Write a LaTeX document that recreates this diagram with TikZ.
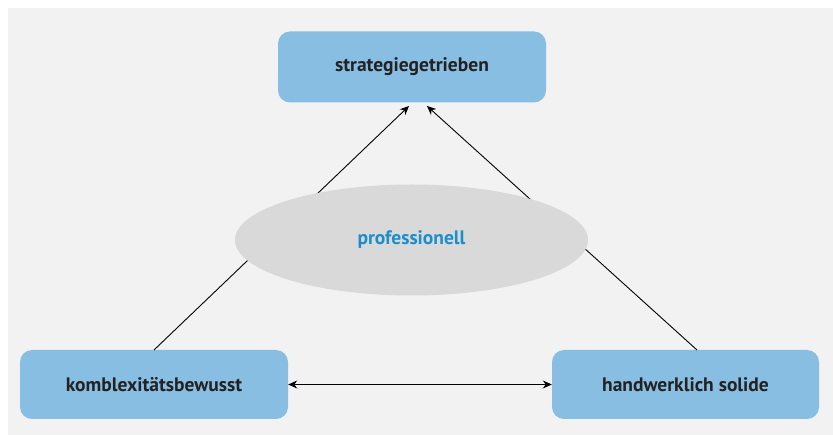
\documentclass[tikz,border=0pt]{standalone}
\usepackage{fontspec}
\setmainfont{PT Sans}
\usetikzlibrary{shapes.geometric,arrows.meta}
\definecolor{panel}{HTML}{F2F2F2}
\definecolor{boxfill}{HTML}{88BEE2}
\definecolor{ovalfill}{HTML}{D9D9D9}
\definecolor{ovaltext}{HTML}{1A8FCB}
\definecolor{boxtext}{HTML}{222222}
\tikzset{
  rolebox/.style={fill=boxfill, rounded corners=12pt, minimum width=268pt, minimum height=71pt,
    inner sep=0pt, font=\fontsize{19.5}{22}\selectfont\bfseries, text=boxtext},
  centeroval/.style={ellipse, fill=ovalfill, minimum width=353pt, minimum height=111pt, inner sep=0pt,
    font=\fontsize{19.5}{22}\selectfont\bfseries, text=ovaltext},
  link/.style={line width=0.9pt, -{Stealth[length=9pt,width=8pt]}},
  biline/.style={line width=0.9pt, {Stealth[length=9pt,width=8pt]}-{Stealth[length=9pt,width=8pt]}}
}
\begin{document}
\begin{tikzpicture}[x=1pt,y=-1pt]
  \useasboundingbox (0,0) rectangle (833,435);
  \fill[panel] (8,8) rectangle (833,435);
  \node[rolebox] (top) at (412,67) {strategiegetrieben};
  \node[rolebox, minimum height=69pt] (left) at (154,384.5) {komblexitätsbewusst};
  \node[rolebox, minimum height=69pt, minimum width=267pt] (right) at (685.5,384.5) {handwerklich solide};
  \coordinate (leftstart) at (154,350);
  \coordinate (rightstart) at (697,350);
  \coordinate (tipL) at (409,106);
  \coordinate (tipR) at (427,106);
  \draw[link] (leftstart) -- (tipL);
  \draw[link] (rightstart) -- (tipR);
  \draw[biline] (left.east) -- (right.west);
  \node[centeroval] (mid) at (411.5,240) {professionell};
\end{tikzpicture}
\end{document}
